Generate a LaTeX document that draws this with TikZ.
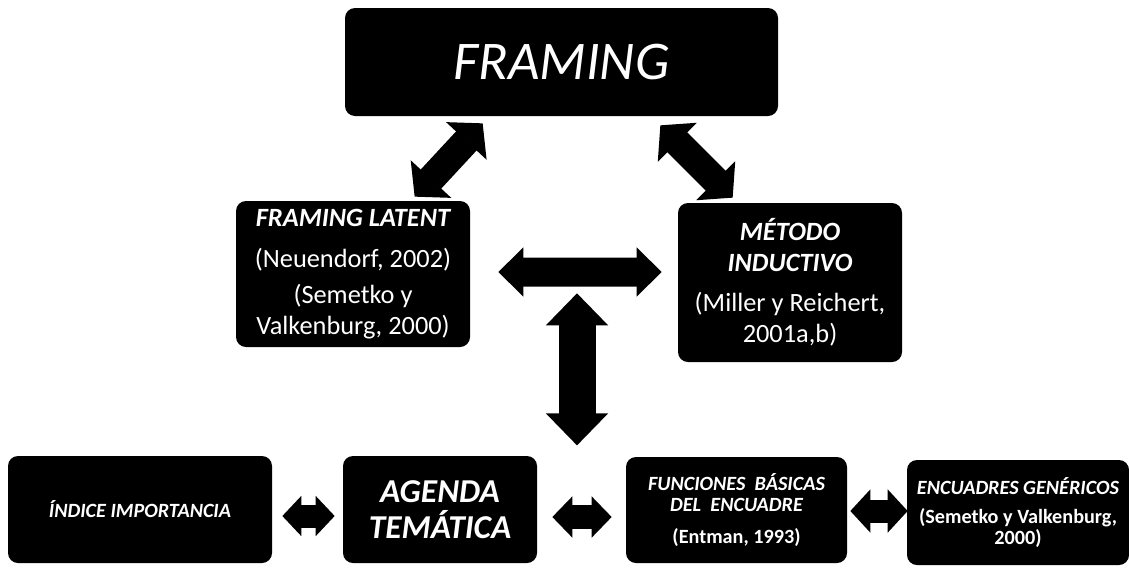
\documentclass[tikz,border=0pt]{standalone}
\usepackage{fontspec}
\setmainfont{Carlito}
\usetikzlibrary{arrows.meta,calc}

\begin{document}
\begin{tikzpicture}[
    box/.style={fill=black, text=white, rounded corners=0.2cm, align=center, inner sep=0pt},
    twoway/.style n args={3}{line width=#1,
        arrows={Triangle[width=#2,length=#3,line width=1pt]-Triangle[width=#2,length=#3,line width=1pt]}},
]
    % page
    \useasboundingbox (0,0) rectangle (22.58,-11.34);
    % top box
    \node[box, minimum width=8.66cm, minimum height=2.16cm,
        font=\fontsize{31}{36}\selectfont\itshape] (framing) at (11.23,-1.24) {FRAMING};
    % middle boxes
    \node[box, minimum width=4.68cm, minimum height=2.92cm,
        font=\fontsize{15}{17.6}\selectfont] (latent) at (7.06,-5.48)
        {{\bfseries\itshape FRAMING LATENT}\\[5.5pt] (Neuendorf, 2002)\\[3pt] (Semetko y\\ Valkenburg, 2000)};
    \node[box, minimum width=4.48cm, minimum height=3.18cm,
        font=\fontsize{15}{17.6}\selectfont] (metodo) at (15.8,-5.65)
        {{\bfseries\itshape MÉTODO}\\{\bfseries\itshape INDUCTIVO}\\[5pt] (Miller y Reichert,\\ 2001a,b)};
    % bottom row
    \node[box, minimum width=5.28cm, minimum height=2.14cm,
        font=\fontsize{11.5}{13}\selectfont\bfseries\itshape] (indice) at (2.8,-10.19) {ÍNDICE IMPORTANCIA};
    \node[box, minimum width=3.88cm, minimum height=2.14cm,
        font=\fontsize{19}{20.5}\selectfont\bfseries\itshape] (agenda) at (8.8,-10.19) {AGENDA\\ TEMÁTICA};
    \node[box, minimum width=4.42cm, minimum height=2.12cm,
        font=\fontsize{11.5}{12}\selectfont\bfseries] (funciones) at (14.73,-10.2)
        {{\itshape FUNCIONES\ \ BÁSICAS}\\{\itshape DEL\ \ ENCUADRE}\\[6pt] (Entman, 1993)};
    \node[box, minimum width=4.44cm, minimum height=2.1cm,
        font=\fontsize{11.5}{12}\selectfont\bfseries] (encuadres) at (20.36,-10.25)
        {{\itshape ENCUADRES GENÉRICOS}\\[4.5pt] (Semetko y Valkenburg,\\ 2000)};
    % free ends of the vertical arrow
    \coordinate (vtop) at ($(framing.south)+(0.31,-3.54)$);
    \coordinate (vbot) at ($(framing.south)+(0.31,-6.58)$);
    % arrows
    \draw[twoway={0.56cm}{1.1cm}{0.48cm}] ($(framing.south west)+(2.76,-0.14)$) -- ($(latent.north west)+(3.58,0.08)$);
    \draw[twoway={0.56cm}{1.1cm}{0.48cm}] ($(framing.south east)+(-2.36,-0.18)$) -- ($(metodo.north west)+(1.1,0.1)$);
    \draw[twoway={0.58cm}{0.98cm}{0.5cm}] ($(latent.east)+(0.56,0.04)$) -- ($(metodo.west)+(-0.32,0.21)$);
    \draw[twoway={0.74cm}{1.24cm}{0.64cm}] (vtop) -- (vbot);
    \draw[twoway={0.46cm}{0.8cm}{0.38cm}] ($(indice.east)+(0.2,-0.13)$) -- ($(agenda.west)+(-0.16,-0.13)$);
    \draw[twoway={0.48cm}{0.82cm}{0.4cm}] ($(agenda.east)+(0.3,-0.15)$) -- ($(funciones.west)+(-0.28,-0.14)$);
    \draw[twoway={0.46cm}{0.86cm}{0.4cm}] ($(funciones.east)+(0.06,-0.02)$) -- ($(encuadres.west)+(0.02,0.03)$);
\end{tikzpicture}
\end{document}
